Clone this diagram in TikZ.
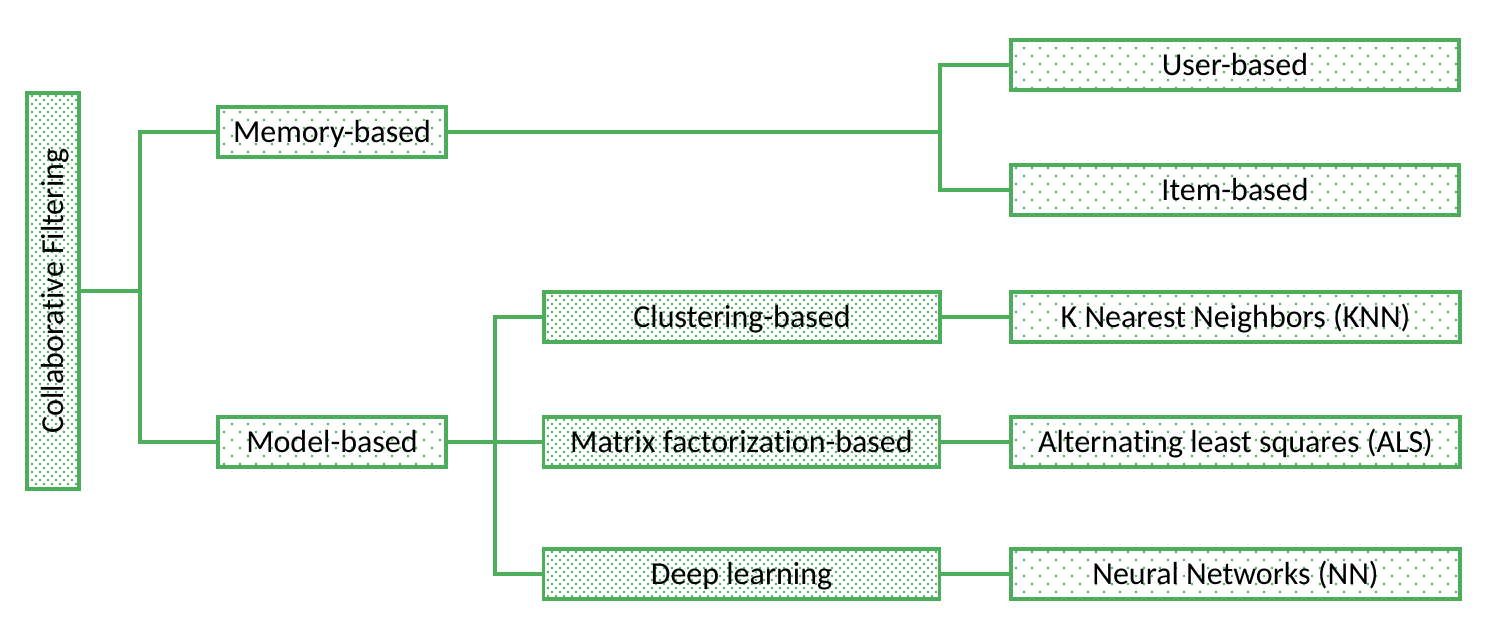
\documentclass[tikz,border=0pt]{standalone}
\usepackage{fontspec}
\setmainfont{Carlito}[Ligatures=NoCommon]
\usetikzlibrary{patterns.meta}
\definecolor{cfgreen}{RGB}{76,173,91}
\tikzset{
  box/.style={draw=cfgreen, line width=3.8pt, inner sep=0pt, fill=white,
    font=\fontsize{32}{38}\selectfont, text height=26pt, text depth=6pt,
    minimum height=50pt},
  densebox/.style={box,
    postaction={pattern={Dots[distance=8pt,radius=1.3pt]}, pattern color=cfgreen},
    postaction={pattern={Dots[distance=8pt,radius=1.3pt,xshift=4pt,yshift=4pt]}, pattern color=cfgreen}},
  sparsebox/.style={box,
    postaction={pattern={Dots[distance=16pt,radius=1.3pt]}, pattern color=cfgreen},
    postaction={pattern={Dots[distance=16pt,radius=1.3pt,xshift=8pt,yshift=8pt]}, pattern color=cfgreen}},
  link/.style={draw=cfgreen, line width=3.2pt},
}
\begin{document}
\begin{tikzpicture}[x=1pt,y=-1pt]
\useasboundingbox (0,0) rectangle (1492,640);
% nodes
\node[densebox, rotate=90, minimum width=396pt, minimum height=52pt] (cf) at (53,291) {Collaborative Filtering};
\node[sparsebox, minimum width=228.5pt] (mem) at (332,132) {Memory-based};
\node[sparsebox, minimum width=228.5pt] (model) at (332,442) {Model-based};
\node[densebox, minimum width=396pt] (clus) at (742,317) {Clustering-based};
\node[densebox, minimum width=396pt] (mat) at (741.5,442) {Matrix factorization-based};
\node[densebox, minimum width=396pt] (deep) at (741.5,574) {Deep learning};
\node[sparsebox, minimum width=448.5pt] (user) at (1235,65) {User-based};
\node[sparsebox, minimum width=448.5pt] (item) at (1235,190) {Item-based};
\node[sparsebox, minimum width=448.5pt] (knn) at (1235.5,317) {K Nearest Neighbors (KNN)};
\node[sparsebox, minimum width=448.5pt] (als) at (1235.5,442) {Alternating least squares (ALS)};
\node[sparsebox, minimum width=448.5pt] (nn) at (1235.5,574) {Neural Networks (NN)};
% junctions
\coordinate (j1) at (140,291);
\coordinate (j2) at (940,132);
\coordinate (j3) at (495,442);
% connectors
\draw[link] (cf.south) -- (j1);
\draw[link] (mem.west) -| (j1);
\draw[link] (model.west) -| (j1);
\draw[link] (mem.east) -- (j2);
\draw[link] (user.west) -| (j2);
\draw[link] (item.west) -| (j2);
\draw[link] (model.east) -- (mat.west);
\draw[link] (clus.west) -| (j3);
\draw[link] (deep.west) -| (j3);
\draw[link] (clus.east) -- (knn.west);
\draw[link] (mat.east) -- (als.west);
\draw[link] (deep.east) -- (nn.west);
\end{tikzpicture}
\end{document}
